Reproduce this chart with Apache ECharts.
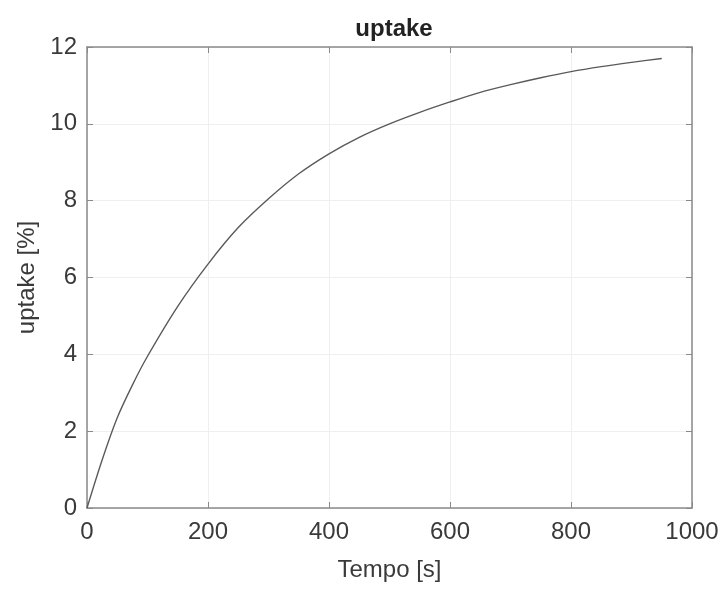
<!DOCTYPE html>
<html>
<head>
<meta charset="utf-8">
<script src="https://cdn.jsdelivr.net/npm/echarts@6/dist/echarts.min.js"></script>
<style>html,body{margin:0;padding:0;background:#fff}#c{width:725px;height:590px}</style>
</head>
<body>
<div id="c"></div>
<script>
var titleText = 'uptake';
var xName = 'Tempo [s]';
var yName = 'uptake [%]';
var timeValues = [0, 25, 50, 75, 100, 150, 200, 250, 300, 350, 400, 450, 500, 550, 600, 650, 700, 750, 800, 850, 900, 950];
var uptakeValues = [0, 1.25, 2.35, 3.2, 3.95, 5.25, 6.35, 7.3, 8.05, 8.7, 9.22, 9.65, 10.0, 10.3, 10.57, 10.82, 11.02, 11.2, 11.36, 11.49, 11.6, 11.7];
var xTicks = [0, 200, 400, 600, 800, 1000];
var yTicks = [0, 2, 4, 6, 8, 10, 12];

var pts = timeValues.map(function (t, i) { return [t, uptakeValues[i]]; });
var font = 'Liberation Sans, Arial, sans-serif';
var axisCol = '#8a8a8a';
var labelCol = '#3a3a3a';
var plain = function (v) { return String(v); };

var chart = echarts.init(document.getElementById('c'));
chart.setOption({
  animation: false,
  backgroundColor: '#fff',
  title: {
    text: titleText, left: 389, top: 12, textAlign: 'center',
    textStyle: { fontFamily: font, fontSize: 24, fontWeight: 'bold', color: '#222' }
  },
  grid: { left: 87, right: 33, top: 47, bottom: 82, show: false },
  xAxis: [{
    type: 'value', min: xTicks[0], max: xTicks[xTicks.length - 1], interval: 200,
    name: xName, nameLocation: 'middle', nameGap: 50,
    nameTextStyle: { fontFamily: font, fontSize: 24, color: labelCol },
    axisLine: { show: true, onZero: false, lineStyle: { color: axisCol, width: 1.5 } },
    axisTick: { show: true, inside: true, length: 6, lineStyle: { color: axisCol } },
    axisLabel: { fontFamily: font, fontSize: 24, color: labelCol, margin: 12, formatter: plain },
    splitLine: { show: true, lineStyle: { color: '#efefef', width: 1 } }
  }, {
    type: 'value', position: 'top', min: xTicks[0], max: xTicks[xTicks.length - 1], interval: 200,
    axisLine: { show: true, onZero: false, lineStyle: { color: axisCol, width: 1.5 } },
    axisTick: { show: true, inside: true, length: 6, lineStyle: { color: axisCol } },
    axisLabel: { show: false }, splitLine: { show: false }
  }],
  yAxis: [{
    type: 'value', min: yTicks[0], max: yTicks[yTicks.length - 1], interval: 2,
    name: yName, nameLocation: 'middle', nameGap: 47, nameRotate: 90,
    nameTextStyle: { fontFamily: font, fontSize: 24, color: labelCol },
    axisLine: { show: true, onZero: false, lineStyle: { color: axisCol, width: 1.5 } },
    axisTick: { show: true, inside: true, length: 6, lineStyle: { color: axisCol } },
    axisLabel: { fontFamily: font, fontSize: 24, color: labelCol, margin: 10, formatter: plain },
    splitLine: { show: true, lineStyle: { color: '#efefef', width: 1 } }
  }, {
    type: 'value', position: 'right', min: yTicks[0], max: yTicks[yTicks.length - 1], interval: 2,
    axisLine: { show: true, onZero: false, lineStyle: { color: axisCol, width: 1.5 } },
    axisTick: { show: true, inside: true, length: 6, lineStyle: { color: axisCol } },
    axisLabel: { show: false }, splitLine: { show: false }
  }],
  series: [{
    type: 'line', data: pts, smooth: 0.3, showSymbol: false,
    lineStyle: { color: '#5a5a5a', width: 1.4 }
  }]
});
</script>
</body>
</html>
